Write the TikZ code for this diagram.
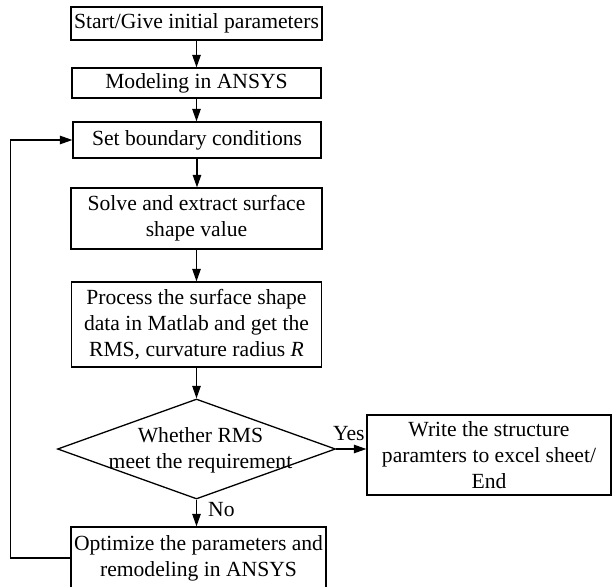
\documentclass[tikz,border=0pt]{standalone}
\usepackage{fontspec}
\setmainfont{Liberation Serif}
\usetikzlibrary{arrows.meta, shapes.geometric}
\tikzset{
    boxS/.style args={#1 #2}{
        draw, rectangle, line width=1.3bp, align=center, inner sep=0pt,
        minimum width=#1, minimum height=#2
    },
    boxS/.default={250bp 33bp}
}
\tikzset{
    judgeD/.style={
        draw, diamond, line width=1.3bp, inner sep=0pt,
        minimum width=278bp, minimum height=100bp
    },
    flowA/.style={-{Triangle[length=12.5bp,width=8.5bp]}, line width=1.1bp},
    lbl/.style={inner sep=0pt}
}
\begin{document}
\begin{tikzpicture}[x=1bp, y=-1bp]
    \tikzstyle{every node}=[font=\fontsize{21.6bp}{26bp}\selectfont];
    \path[use as bounding box, clip] (0,0) rectangle (613,587);
    \node[boxS={251bp 33bp}] (s1) at (196.5,23.5) {Start/Give initial parameters};
    \node[boxS={249bp 30bp}] (s2) at (196.5,83) {Modeling in ANSYS};
    \node[boxS={248bp 36bp}] (s3) at (197,140) {Set boundary conditions};
    \node[boxS={251bp 61bp}] (s4) at (196.5,218.5) {Solve and extract surface\\shape value};
    \node[boxS={250bp 85bp}] (s5) at (196.5,324.5) {Process the surface shape\\data in Matlab and get the\\RMS, curvature radius \textit{R}};
    \node[judgeD, label={[lbl, align=center, xshift=4bp, yshift=-1bp]center:Whether RMS\\meet the requirement}] (s6) at (196.5,449) {};
    \node[boxS={244bp 80bp}] (s7) at (489,455) {Write the structure\\paramters to excel sheet/\\End};
    \node[boxS={255bp 62bp}] (s8) at (198.5,558) {Optimize the parameters and\\remodeling in ANSYS};
    % yes / no
    \node[lbl, anchor=base west] (yes) at (333,440) {Yes};
    \node[lbl, anchor=base west] (no) at (208,516) {No};
    \draw[flowA] (s1.south) -- (s2.north);
    \draw[flowA] (s2.south) -- (s2.south |- s3.north);
    \draw[flowA] (s3.south) -- (s3.south |- s4.north);
    \draw[flowA] (s4.south) -- (s4.south |- s5.north);
    \draw[flowA] (s5.south) -- (s6.north);
    \draw[flowA] (s6.east) -- (s6.east -| s7.west);
    \draw[flowA] (s6.south) -- (s6.south |- s8.north);
    \draw[flowA] (s8.west) -- ++(-60,0) |- (s3.west);
\end{tikzpicture}
\end{document}
